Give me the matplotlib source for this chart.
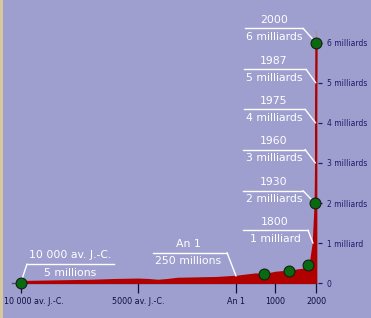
import numpy as np
import matplotlib
matplotlib.use("Agg")
import matplotlib.pyplot as plt
import matplotlib.transforms as mtransforms
from matplotlib.patches import Rectangle

# population curve (years, milliards)
years = [-10000, -9000, -8000, -7000, -6000, -5000, -4500, -4000, -3500, -3000, -2000,
         -1000, 0, 500, 700, 1000, 1300, 1600, 1700, 1750, 1800, 1930, 1960, 1975, 1987, 2000]
pop = [0.05, 0.06, 0.07, 0.08, 0.10, 0.11, 0.10, 0.08, 0.10, 0.13, 0.14,
       0.15, 0.18, 0.24, 0.22, 0.28, 0.31, 0.36, 0.45, 0.6, 1.0, 2.0, 3.0, 4.0, 5.0, 6.0]

# green dots
dot_years = [-10000, 700, 1300, 1700, 1930, 2000]
dot_pop = [0.005, 0.22, 0.31, 0.45, 2.0, 6.0]

# annotations
ann_years = [-10000, 1, 1800, 1930, 1960, 1975, 1987, 2000]
ann_top = ['10 000 av. J.-C.', 'An 1', '1800', '1930', '1960', '1975', '1987', '2000']
ann_bottom = ['5 millions', '250 millions', '1 milliard', '2 milliards', '3 milliards',
              '4 milliards', '5 milliards', '6 milliards']

xtick_years = [-10000, -5000, 1, 1000, 2000]
xtick_labels = ['10 000 av. J.-C.', '5000 av. J.-C.', 'An 1', '1000', '2000']
ytick_vals = [0, 1, 2, 3, 4, 5, 6]
ytick_labels = ['0', '1 milliard', '2 milliards', '3 milliards', '4 milliards',
                '5 milliards', '6 milliards']

# label layout in image pixels: underline y, underline x0, x1, text centre x
ann_layout = [(264, 27, 114, 70), (252.7, 153, 227, 188), (230.3, 243, 308, 275),
              (190.7, 243, 303, 274), (149.5, 243, 305, 274), (109.3, 244, 305, 274),
              (69.3, 244, 306, 274), (28.3, 245, 303, 274)]

W, H = 371, 318
bg = '#9e9ecf'
navy = '#1c1c6c'

fig = plt.figure(figsize=(W / 100, H / 100), dpi=100)
fig.patch.set_facecolor(bg)
fig.patches.append(Rectangle((0, 0), 2.5 / W, 1, transform=fig.transFigure,
                             facecolor='#d8c89c', edgecolor='none'))

y0 = 283.3
ax = fig.add_axes([0, (H - y0) / H, 318 / W, y0 / H])
ax.set_facecolor('none')

# non linear time axis
kn_y = [-10900, -10000, -5000, 0, 1000, 1800, 2000, 2300]
kn_p = [0, 20.7, 138.3, 236, 275.3, 313, 316, 318]
ax.set_xscale('function', functions=(lambda x: np.interp(x, kn_y, kn_p),
                                     lambda p: np.interp(p, kn_p, kn_y)))
ax.set_xlim(-10900, 2300)
ax.set_ylim(0, y0 / 40.1)

ax.plot([-10400, 2000], [0, 0], color='#505060', lw=1, zorder=1, clip_on=False)
ax.plot([2000, 2000], [0, 6.3], color='#b09090', lw=0.8, zorder=1)
ax.fill_between(years, 0, pop, color='#b00000', lw=1.2, edgecolor='#b00000', zorder=2)
ax.plot(dot_years, dot_pop, 'o', ms=7.8, color='#0a6a12', mec='#102010', mew=0.8,
        zorder=4, clip_on=False)

for s in ax.spines.values():
    s.set_visible(False)
ax.yaxis.tick_right()
ax.set_xticks(xtick_years, xtick_labels)
ax.set_yticks(ytick_vals, ytick_labels)
ax.tick_params(axis='x', length=7.2, width=0.9, color='#101040', labelcolor='#101040',
               labelsize=5.8, pad=3)
ax.tick_params(axis='y', length=2.9, width=0.9, color=navy, labelcolor=navy,
               labelsize=5.5, pad=3.5)

# first label is pushed right so it stays inside the picture
first = ax.get_xticklabels()[0]
first.set_horizontalalignment('left')
first.set_transform(first.get_transform() +
                    mtransforms.ScaledTranslation(-0.172, 0, fig.dpi_scale_trans))

for yr, top, bot, (uy, x0, x1, cx) in zip(ann_years, ann_top, ann_bottom, ann_layout):
    fy = H - uy
    target = (yr, float(np.interp(yr, years, pop)) if yr > -10000 else 0.005)
    px = ax.transData.transform(target)[0] * 100 / fig.dpi
    sx = x0 if abs(px - x0) < abs(px - x1) else x1
    fig.lines.append(plt.Line2D([x0, x1], [fy, fy], transform=None, color='white', lw=1))
    ax.annotate('', xy=target, xycoords='data', xytext=(sx, fy), textcoords='figure pixels',
                arrowprops=dict(arrowstyle='-', color='white', lw=1, shrinkA=0,
                                shrinkB=4 if yr in dot_years else 0), zorder=3)
    fig.text(cx / W, (fy + 8.5) / H, top, color='white', fontsize=7.8, ha='center', va='center')
    fig.text(cx / W, (fy - 8.7) / H, bot, color='white', fontsize=7.8, ha='center', va='center')

fig.savefig('out.png', dpi=100, facecolor=bg)
